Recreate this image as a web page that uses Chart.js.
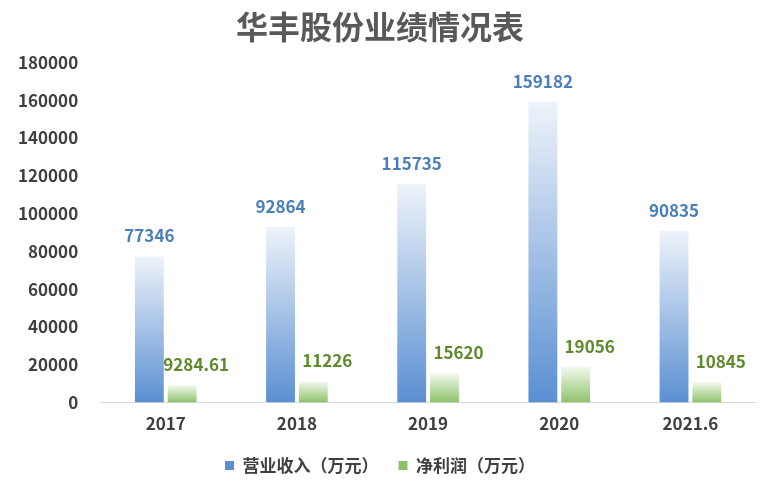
<!DOCTYPE html>
<html lang="zh">
<head>
<meta charset="UTF-8" />
<script src="https://cdn.jsdelivr.net/npm/chart.js"></script>
<style>
  body { margin: 0; background: #fff; }
  #wrap { width: 762px; height: 490px; }
</style>
</head>
<body>
<div id="wrap"><canvas id="c"></canvas></div>
<script>
  const categories = ['2017', '2018', '2019', '2020', '2021.6'];
  const revenue = [77346, 92864, 115735, 159182, 90835];
  const profit = [9284.61, 11226, 15620, 19056, 10845];
  const profitLabels = ['9284.61', '11226', '15620', '19056', '10845'];

  // gradient per bar: light at the bar top, saturated at the base
  function grad(ctx, top, bottom) {
    const chart = ctx.chart;
    const y = chart.scales && chart.scales.y;
    if (!chart.chartArea || !y || ctx.raw == null) return bottom;
    const g = chart.ctx.createLinearGradient(0, y.getPixelForValue(ctx.raw), 0, y.getPixelForValue(0));
    g.addColorStop(0, top);
    g.addColorStop(1, bottom);
    return g;
  }

  const labelPlugin = {
    id: 'valueLabels',
    afterDatasetsDraw(chart) {
      const ctx = chart.ctx;
      ctx.save();
      ctx.font = 'bold 17px "Noto Sans CJK SC", "DejaVu Sans", sans-serif';
      ctx.textAlign = 'center';
      ctx.textBaseline = 'bottom';
      chart.getDatasetMeta(0).data.forEach((bar, i) => {
        ctx.fillStyle = '#4a7ebb';
        ctx.fillText(String(revenue[i]), bar.x, bar.y - 12);
      });
      chart.getDatasetMeta(1).data.forEach((bar, i) => {
        ctx.fillStyle = '#5e8a2e';
        ctx.fillText(profitLabels[i], bar.x + 14, bar.y - 12);
      });
      ctx.restore();
    }
  };

  new Chart(document.getElementById('c'), {
    type: 'bar',
    data: {
      labels: categories,
      datasets: [
        {
          label: '营业收入（万元）',
          data: revenue,
          backgroundColor: (ctx) => grad(ctx, '#eef3fa', '#5a8fd2'),
          categoryPercentage: 0.5,
          barPercentage: 0.88
        },
        {
          label: '净利润（万元）',
          data: profit,
          backgroundColor: (ctx) => grad(ctx, '#f4f9ef', '#8cc26a'),
          categoryPercentage: 0.5,
          barPercentage: 0.88
        }
      ]
    },
    options: {
      responsive: true,
      maintainAspectRatio: false,
      animation: false,
      layout: { padding: { left: 4, right: 6, top: 2, bottom: 6 } },
      plugins: {
        title: {
          display: true,
          text: '华丰股份业绩情况表',
          color: '#595959',
          font: { size: 32, weight: 'bold', family: '"Noto Sans CJK SC", sans-serif' },
          padding: { top: 6, bottom: 16 }
        },
        legend: {
          position: 'bottom',
          labels: {
            boxWidth: 9, boxHeight: 9,
            color: '#404040',
            padding: 20,
            font: { size: 17, weight: 'bold', family: '"Noto Sans CJK SC", sans-serif' }
          }
        },
        tooltip: { enabled: false }
      },
      scales: {
        x: {
          grid: { display: false },
          border: { color: '#d9d9d9' },
          ticks: { color: '#404040', font: { size: 17, weight: 'bold', family: '"Noto Sans CJK SC", sans-serif' } }
        },
        y: {
          min: 0, max: 180000,
          ticks: {
            stepSize: 20000, color: '#404040', padding: 14,
            callback: (v) => String(v),
            font: { size: 17, weight: 'bold', family: '"Noto Sans CJK SC", sans-serif' }
          },
          grid: { display: false },
          border: { display: false }
        }
      }
    },
    plugins: [labelPlugin]
  });
</script>
</body>
</html>
